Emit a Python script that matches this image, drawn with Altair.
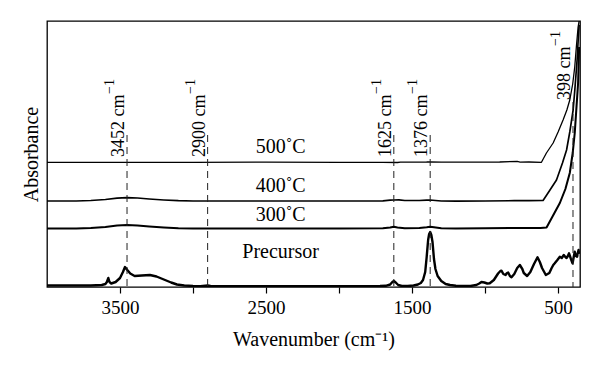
import altair as alt
import pandas as pd

FONT = "Liberation Serif"

# ---------------- data ----------------
pre_w = [4000, 3700, 3625, 3600, 3590, 3580, 3572, 3560, 3530, 3500, 3480, 3466, 3450, 3430,
         3400, 3350, 3295, 3250, 3200, 3150, 3110, 3060, 3000, 2950, 2900, 2880, 2800, 2400,
         2000, 1720, 1680, 1650, 1635, 1625, 1612, 1595, 1570, 1530, 1490, 1460, 1440, 1425,
         1410, 1400, 1390, 1383, 1376, 1368, 1360, 1350, 1340, 1325, 1300, 1270, 1240, 1200,
         1100, 1060, 1040, 1025, 1005, 985, 968, 940, 911, 895, 888, 875, 860, 850, 842, 830,
         819, 800, 780, 762, 745, 735, 712, 690, 665, 641, 625, 610, 584, 560, 545, 533, 523,
         505, 488, 475, 461, 450, 442, 433, 425, 412, 401, 393, 386, 378, 370, 365, 360, 356]
pre_v = [1.5, 1.5, 2, 3, 5, 9, 5, 3.5, 5, 9, 15, 20, 17, 13.5,
         11, 11.5, 12, 10.5, 7.5, 4.5, 2.5, 1.5, 1, 0.8, 1.5, 1, 0.8, 0.8,
         0.8, 1, 1.2, 2.5, 5, 6, 4.5, 2, 1, 1, 1.5, 2.5, 4, 7,
         15, 30, 47, 53, 55, 52, 45, 28, 18, 11, 6, 3, 2, 1.2,
         1, 2, 3.5, 5, 4.5, 3.5, 3.7, 7, 13.5, 16, 16.3, 13, 12, 14, 14.5, 11,
         9.7, 13, 19, 22, 18, 14, 11, 15, 23, 29.7, 25, 19, 12, 14, 18.7, 22, 23.7,
         27, 30.3, 29, 32, 30, 29, 31, 33.7, 28, 23.7, 30, 35.3, 31, 30.3, 34, 37, 33]

t300_w = [4000, 3800, 3700, 3600, 3520, 3452, 3380, 3300, 3200, 3100, 3000, 2500, 2000, 1700,
          1650, 1625, 1600, 1550, 1450, 1400, 1376, 1350, 1300, 1200, 1000, 800, 700, 620,
          579, 540, 488, 450, 420, 400, 386, 375, 363, 356]
t300_v = [58.5, 58.5, 59, 60, 61.5, 62, 61.5, 60.5, 59.5, 58.8, 58.5, 58.5, 58.5, 58.7,
          59.5, 60.3, 59.5, 58.8, 59, 59.8, 60.3, 59.8, 58.8, 58.5, 58.7, 59, 59, 59,
          59.5, 70, 84, 98, 114, 134, 154, 178, 204, 240]

t400_w = [4000, 3800, 3700, 3600, 3520, 3452, 3380, 3300, 3200, 3100, 3000, 2500, 2000, 1700,
          1650, 1625, 1590, 1550, 1450, 1400, 1376, 1340, 1300, 1200, 1000, 800, 700, 603,
          560, 511, 470, 442, 420, 397, 385, 370, 362, 356]
t400_v = [86, 86, 86.5, 87.5, 88.8, 89.3, 89, 88, 87, 86.3, 86, 86, 86, 86.2,
          86.8, 87, 87.2, 86.5, 86.5, 86.8, 87, 86.5, 86, 85.8, 86, 86.3, 86.3, 86.5,
          96, 107, 124, 137, 155, 177, 198, 227, 248, 262]

t500_w = [4000, 3000, 2500, 2000, 1700, 1600, 1580, 1400, 1376, 1300, 1100, 900, 780, 760,
          700, 614, 580, 534, 500, 466, 440, 420, 400, 386, 375, 363, 356]
t500_v = [124.7, 124.7, 124.9, 124.7, 124.7, 124.5, 124.9, 125, 125.2, 124.8, 124.9, 125, 125.6, 124.9,
          125, 124.7, 134, 144, 155, 167, 177, 187, 203, 220, 240, 260, 266]

peak_w = [3452, 2900, 1625, 1376, 398]
peak_text = ["3452 cm", "2900 cm", "1625 cm", "1376 cm", "398 cm"]
peak_sup = ["\u22121", "\u22121", "\u22121", "\u22121", "\u22121"]
peak_label_v = [130, 130, 130, 130, 187]
peak_line_top = [152, 152, 152, 152, 185]

temp_labels = ["500\u02daC", "400\u02daC", "300\u02daC", "Precursor"]
temp_w = [2400, 2400, 2400, 2400]
temp_v = [133.7, 95.3, 66.3, 28.7]

x_ticks = [3500, 3000, 2500, 2000, 1500, 1000, 500]

# ---------------- tables ----------------
def series(name, w, v):
    return pd.DataFrame({"w": w, "v": v, "s": name})

lines_df = pd.concat([
    series("Precursor", pre_w, pre_v),
    series("300", t300_w, t300_v),
    series("400", t400_w, t400_v),
    series("500", t500_w, t500_v),
], ignore_index=True)

rules_df = pd.DataFrame({"w": peak_w, "v": peak_line_top, "v0": [0] * len(peak_w)})
peaks_df = pd.DataFrame({"w": peak_w, "v": peak_label_v, "t": peak_text, "sup": peak_sup,
                         "n": [len(t) for t in peak_text]})
temps_df = pd.DataFrame({"w": temp_w, "v": temp_v, "t": temp_labels})

x_scale = alt.Scale(domain=[4000, 350], nice=False, zero=False)
y_scale = alt.Scale(domain=[0, 266], nice=False, zero=False)

x_axis = alt.Axis(values=x_ticks, format="d",
                  labelExpr="datum.value % 1000 == 500 ? datum.label : ''",
                  title="Wavenumber (cm\u207b\u00b9)", tickSize=6, labelPadding=5,
                  titlePadding=12, domain=False, grid=False)
y_axis = alt.Axis(title="Absorbance", labels=False, ticks=False, domain=False,
                  grid=False, titlePadding=6)

X = alt.X("w:Q", scale=x_scale, axis=x_axis)
Y = alt.Y("v:Q", scale=y_scale, axis=y_axis)

lines = alt.Chart(lines_df).mark_line(color="black", clip=True, strokeJoin="round").encode(
    x=X, y=Y, detail="s:N",
    strokeWidth=alt.StrokeWidth("s:N", scale=alt.Scale(domain=["Precursor", "300", "400", "500"],
                                                        range=[2.4, 1.3, 1.3, 1.3]), legend=None),
)

rules = alt.Chart(rules_df).mark_rule(color="#222", strokeWidth=1, strokeDash=[7, 5]).encode(
    x=X, y=Y, y2="v0:Q"
)

layers = [lines, rules]
for digits, dxv in [(4, 63), (3, 54)]:
    sub = peaks_df[peaks_df["n"] == digits + 3]
    layers.append(alt.Chart(sub).mark_text(font=FONT, fontSize=18, angle=270, align="left",
                                           baseline="alphabetic", dy=-3, color="black").encode(
        x=X, y=Y, text="t:N"))
    layers.append(alt.Chart(sub).mark_text(font=FONT, fontSize=14, angle=270, align="left",
                                           baseline="alphabetic", dx=dxv, dy=-13, color="black").encode(
        x=X, y=Y, text="sup:N"))

temps = alt.Chart(temps_df).mark_text(font=FONT, fontSize=20, align="center",
                                      baseline="alphabetic", color="black").encode(
    x=X, y=Y, text="t:N")
layers.append(temps)

chart = alt.layer(*layers).properties(
    width=533, height=266,
    autosize=alt.AutoSizeParams(type="none"),
    padding={"left": 39, "top": 13, "right": 12, "bottom": 70},
).configure_view(
    stroke="black", strokeWidth=1.3
).configure_axis(
    labelFont=FONT, titleFont=FONT, labelFontSize=19, titleFontSize=20,
    labelColor="black", titleColor="black", tickColor="black", tickWidth=1.2,
    titleFontWeight="normal"
)

chart.save("out.html", embed_options={"renderer": "svg", "actions": False})
